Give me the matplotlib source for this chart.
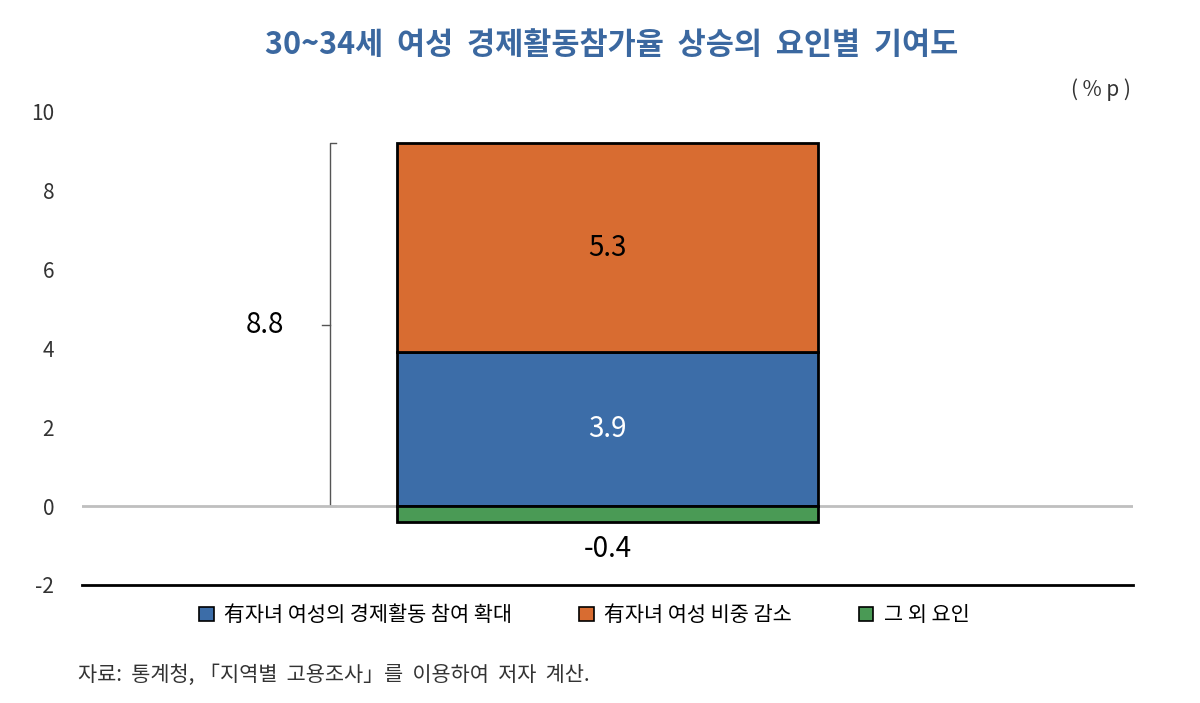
import matplotlib.pyplot as plt
from matplotlib.patches import Patch

plt.rcParams['font.family'] = ['Noto Sans CJK KR', 'DejaVu Sans']

# 요인별 기여도 (%p)
FACTORS = ["有자녀 여성의 경제활동 참여 확대", "有자녀 여성 비중 감소", "그 외 요인"]
VALUES = [3.9, 5.3, -0.4]
COLORS = ["#3c6da8", "#d86c31", "#4a9a55"]
LABEL_COLORS = ["white", "black", "black"]
TOTAL = 8.8
YTICKS = [-2, 0, 2, 4, 6, 8, 10]

fig = plt.figure(figsize=(12, 7.03), dpi=100)
ax = fig.add_axes([0.0683, 0.168, 0.876, 0.673])

width = 0.4
bottom = 0.0
for name, v, c, lc in zip(FACTORS, VALUES, COLORS, LABEL_COLORS):
    if v >= 0:
        ax.bar(0, v, width=width, bottom=bottom, color=c, edgecolor="black",
               linewidth=2, zorder=3)
        ax.text(0, bottom + v / 2, f"{v:.1f}", ha="center", va="center",
                fontsize=20, color=lc, zorder=4)
        bottom += v
    else:
        ax.bar(0, v, width=width, bottom=0, color=c, edgecolor="black",
               linewidth=2, zorder=3)
        ax.text(0, v - 0.7, f"{v:.1f}", ha="center", va="center",
                fontsize=20, color=lc)

# 합계 괄호
bx = -0.264
top = bottom
ax.plot([bx + 0.006, bx, bx, bx + 0.006], [top, top, 0, 0],
        color="#555555", lw=1, clip_on=False)
ax.plot([bx - 0.008, bx], [top / 2, top / 2], color="#555555", lw=1)
ax.text(-0.326, top / 2, f"{TOTAL:.1f}", ha="center", va="center", fontsize=20)

ax.axhline(0, color="#bfbfbf", lw=2, zorder=2)
ax.set_xlim(-0.5, 0.5)
ax.set_ylim(-2, 10)
ax.set_yticks(YTICKS)
ax.set_yticklabels([str(t) for t in YTICKS], fontsize=15, color="#333333")
ax.tick_params(axis="y", length=0, pad=20)
ax.set_xticks([])
for s in ["left", "right", "top"]:
    ax.spines[s].set_visible(False)
ax.spines["bottom"].set_linewidth(2)
ax.spines["bottom"].set_color("black")

fig.text(0.51, 0.936, "30~34세  여성  경제활동참가율  상승의  요인별  기여도",
         ha="center", va="center", fontsize=22, fontweight="bold", color="#3b68a0")
fig.text(0.942, 0.872, "( % p )", ha="right", va="center", fontsize=15, color="#333333")

handles = [Patch(facecolor=c, edgecolor="black", linewidth=1.2) for c in COLORS]
fig.legend(handles, FACTORS, loc="center", bbox_to_anchor=(0.487, 0.125), ncol=3,
           frameon=False, fontsize=15, handlelength=0.7, handleheight=0.7,
           handletextpad=0.5, columnspacing=3.2)

fig.text(0.065, 0.04, "자료:  통계청, 「지역별  고용조사」를  이용하여  저자  계산.",
         ha="left", va="center", fontsize=15, color="#333333")

fig.savefig("out.png", dpi=100, facecolor="white")
